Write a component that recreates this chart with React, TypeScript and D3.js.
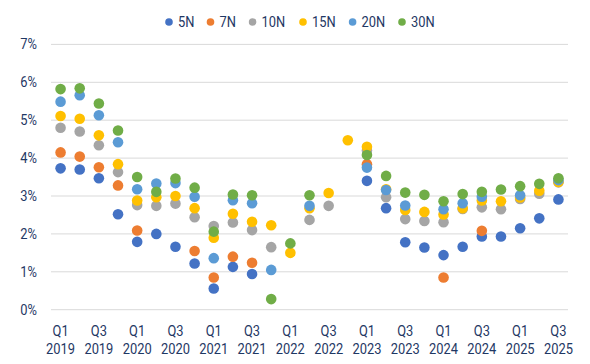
import * as d3 from "d3";
import { useEffect, useRef } from "react";

// quarterly yields, % (null = no point that quarter)
const quarters = [
  "Q1 2019", "Q2 2019", "Q3 2019", "Q4 2019",
  "Q1 2020", "Q2 2020", "Q3 2020", "Q4 2020",
  "Q1 2021", "Q2 2021", "Q3 2021", "Q4 2021",
  "Q1 2022", "Q2 2022", "Q3 2022", "Q4 2022",
  "Q1 2023", "Q2 2023", "Q3 2023", "Q4 2023",
  "Q1 2024", "Q2 2024", "Q3 2024", "Q4 2024",
  "Q1 2025", "Q2 2025", "Q3 2025",
];

const s5N = [3.73, 3.70, 3.47, 2.52, 1.79, 2.00, 1.66, 1.22, 0.56, 1.13, 0.94, null, null, null, null, null, 3.40, 2.68, 1.78, 1.64, 1.44, 1.66, 1.93, 1.93, 2.15, 2.41, 2.91];
const s7N = [4.15, 4.04, 3.76, 3.28, 2.09, null, null, 1.55, 0.85, 1.40, 1.24, null, null, null, null, null, 3.84, null, null, null, 0.85, null, 2.08, null, null, null, null];
const s10N = [4.80, 4.70, 4.34, 3.63, 2.76, 2.74, 2.80, 2.44, 2.21, 2.30, 2.10, 1.65, null, 2.37, 2.74, null, 4.20, 2.97, 2.39, 2.34, 2.31, 2.66, 2.70, 2.65, 2.92, 3.06, 3.36];
const s15N = [5.11, 5.04, 4.60, 3.84, 2.88, 2.97, 3.00, 2.68, 1.90, 2.53, 2.32, 2.23, 1.50, 2.68, 3.08, 4.47, 4.30, 3.18, 2.63, 2.58, 2.51, 2.68, 2.88, 2.86, 2.96, 3.14, 3.37];
const s20N = [5.49, 5.66, 5.13, 4.42, 3.18, 3.33, 3.34, 2.98, 1.36, 2.89, 2.81, 1.05, null, 2.74, null, null, 3.75, 3.16, 2.75, null, 2.65, 2.81, 2.98, null, 3.02, null, 3.42];
const s30N = [5.82, 5.84, 5.44, 4.73, 3.50, 3.11, 3.46, 3.22, 2.06, 3.04, 3.02, 0.28, 1.75, 3.02, null, null, 4.08, 3.53, 3.09, 3.03, 2.86, 3.05, 3.11, 3.17, 3.26, 3.32, 3.47];

const seriesNames = ["5N", "7N", "10N", "15N", "20N", "30N"];
const seriesValues = [s5N, s7N, s10N, s15N, s20N, s30N];
const colors = ["#4472C4", "#ED7D31", "#A5A5A5", "#FFC000", "#5B9BD5", "#70AD47"];
const yTicks = [0, 1, 2, 3, 4, 5, 6, 7];

const W = 590;
const H = 364;
const textColor = "#1F3864";
const font = "Roboto, 'Noto Sans', sans-serif";

const App = () => {
  const ref = useRef<SVGSVGElement>(null);

  useEffect(() => {
    const svg = d3.select(ref.current);
    svg.selectAll("*").remove();

    const margin = { top: 44.4, bottom: H - 309.7, left: 51, right: W - 568 };

    const x = d3
      .scaleBand()
      .domain(quarters)
      .range([margin.left, W - margin.right]);
    const y = d3
      .scaleLinear()
      .domain([0, 7])
      .range([H - margin.bottom, margin.top]);

    // gridlines
    svg.append("g")
      .selectAll("line")
      .data(yTicks)
      .enter()
      .append("line")
      .attr("x1", margin.left)
      .attr("x2", W - margin.right)
      .attr("y1", d => y(d))
      .attr("y2", d => y(d))
      .attr("stroke", "#D9D9D9")
      .attr("stroke-width", 1);

    // y labels
    svg.append("g")
      .selectAll("text")
      .data(yTicks)
      .enter()
      .append("text")
      .attr("transform", d => `translate(37, ${y(d) + 5}) scale(0.86, 1)`)
      .attr("text-anchor", "end")
      .attr("font-family", font)
      .attr("font-size", 15)
      .attr("fill", textColor)
      .text(d => `${d}%`);

    // x labels, every second quarter
    const labelled = quarters.filter((_, i) => i % 2 === 0);
    const xl = svg.append("g")
      .selectAll("text")
      .data(labelled)
      .enter()
      .append("text")
      .attr("transform", d => `translate(${x(d)! + x.bandwidth() / 2}, 335.5) scale(0.86, 1)`)
      .attr("text-anchor", "middle")
      .attr("font-family", font)
      .attr("font-size", 15)
      .attr("fill", textColor);
    xl.append("tspan").attr("x", 0).attr("y", 0).text(d => d.split(" ")[0]);
    xl.append("tspan").attr("x", 0).attr("y", 18.6).text(d => d.split(" ")[1]);

    // points, 30N drawn last so it sits on top
    seriesValues.forEach((vals, i) => {
      const pts = quarters
        .map((q, j) => ({ q, v: vals[j] }))
        .filter(d => d.v !== null);
      svg.append("g")
        .selectAll("circle")
        .data(pts)
        .enter()
        .append("circle")
        .attr("cx", d => x(d.q)! + x.bandwidth() / 2)
        .attr("cy", d => y(d.v as number))
        .attr("r", 5.3)
        .style("fill", colors[i]);
    });

    // legend
    const legendX = [169, 210.5, 252.6, 303, 352.6, 402];
    const lg = svg.append("g")
      .selectAll("g")
      .data(seriesNames)
      .enter()
      .append("g")
      .attr("transform", (d, i) => `translate(${legendX[i]}, 22)`);
    lg.append("circle")
      .attr("r", 3.8)
      .style("fill", (d, i) => colors[i]);
    lg.append("text")
      .attr("transform", "translate(9, 5.3) scale(0.86, 1)")
      .attr("font-family", font)
      .attr("font-size", 15)
      .attr("fill", textColor)
      .text(d => d);
  }, []);

  return (
    <svg
      ref={ref}
      width={W}
      height={H}
      style={{ position: "absolute", left: 0, top: 0, background: "#fff" }}
    ></svg>
  );
};

export default App;
